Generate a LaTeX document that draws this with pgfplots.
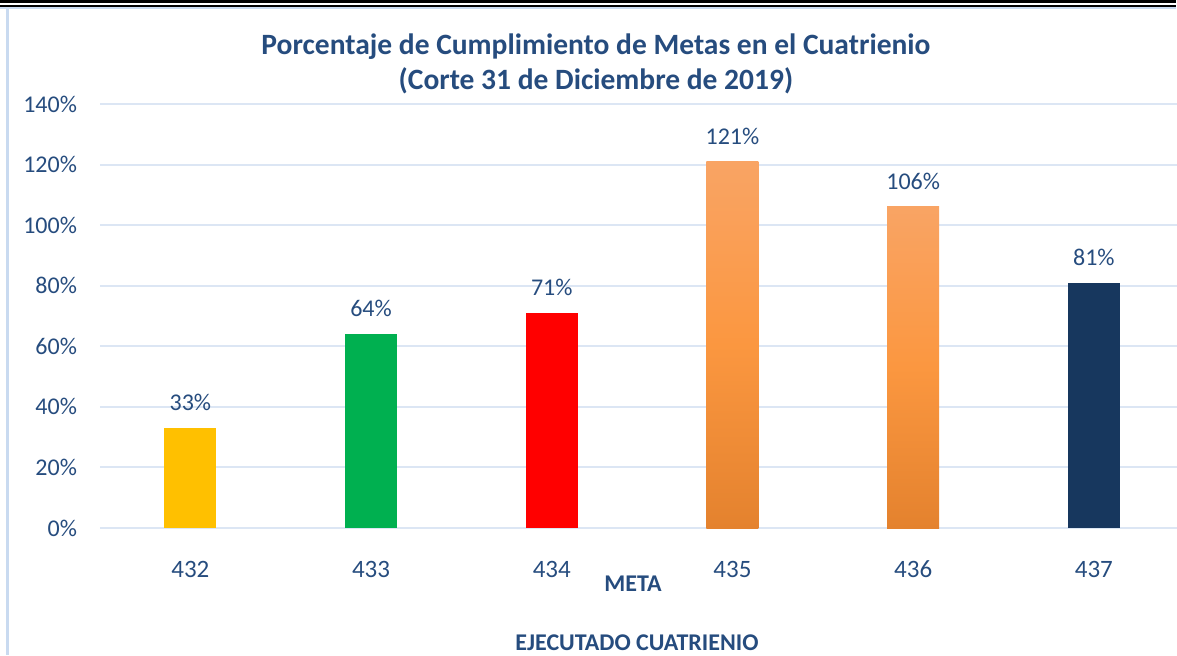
\documentclass[border=0pt]{standalone}
\usepackage{fontspec}
\setmainfont{Carlito}
\usepackage{pgfplots}
\pgfplotsset{compat=1.18}
\definecolor{tc}{HTML}{264C7E}
\definecolor{gridc}{HTML}{DCE6F4}
\definecolor{borderc}{HTML}{C9DAF0}
\definecolor{yel}{HTML}{FFC000}
\definecolor{grn}{HTML}{00B050}
\definecolor{rd}{HTML}{FF0000}
\definecolor{nav}{HTML}{17375E}
\definecolor{orT}{HTML}{F9A464}
\definecolor{orM}{HTML}{FB9740}
\definecolor{orB}{HTML}{E4822E}
\begin{document}
\begin{tikzpicture}[x=0.5pt,y=0.5pt]
\path[use as bounding box] (0,0) rectangle (1177,655);
\fill[black] (0,651.5) rectangle (1176,654.5);
\fill[black] (0,648) rectangle (1176,650);
\fill[borderc] (0,646) rectangle (1176,647.5);
\fill[borderc] (6,0) rectangle (8.5,647);
\begin{axis}[
  at={(50pt,63.5pt)}, anchor=south west, scale only axis,
  width=538.5pt, height=212pt,
  xmin=431.5, xmax=437.46, ymin=0, ymax=140,
  axis x line*=bottom, axis y line*=left,
  axis line style={draw=none},
  major tick length=0pt,
  ytick={0,20,...,140},
  xtick={432,433,434,435,436,437},
  ymajorgrids, grid style={gridc, line width=1pt},
  /pgf/number format/assume math mode=true,
  yticklabel={\pgfmathprintnumber{\tick}\%},
  yticklabel style={font=\fontsize{12}{14}\selectfont, color=tc, xshift=-8pt},
  xticklabel style={font=\fontsize{12.5}{14}\selectfont, color=tc, yshift=-13pt},
  nodes near coords={\pgfmathprintnumber{\pgfplotspointmeta}\%},
  nodes near coords style={font=\fontsize{12}{14}\selectfont, color=tc, yshift=5pt},
  every axis plot/.append style={ybar, bar width=26pt, draw=none},
  clip=false,
]
\addplot[fill=yel] coordinates {(432,33)};
\addplot[fill=grn] coordinates {(433,64)};
\addplot[fill=rd] coordinates {(434,71)};
\addplot[top color=orT, bottom color=orB, middle color=orM] coordinates {(435,121)};
\addplot[top color=orT, bottom color=orB, middle color=orM] coordinates {(436,106)};
\addplot[fill=nav] coordinates {(437,81)};
\end{axis}
\node[anchor=base, font=\fontsize{14.75}{16}\selectfont\bfseries, text=tc] at (596,600) {Porcentaje de Cumplimiento de Metas en el Cuatrienio};
\node[anchor=base, font=\fontsize{14.75}{16}\selectfont\bfseries, text=tc] at (596,566) {(Corte 31 de Diciembre de 2019)};
\node[anchor=base, font=\fontsize{12}{14}\selectfont\bfseries, text=tc] at (633,64) {META};
\node[anchor=base, font=\fontsize{12}{14}\selectfont\bfseries, text=tc] at (637,5) {EJECUTADO CUATRIENIO};
\end{tikzpicture}
\end{document}
